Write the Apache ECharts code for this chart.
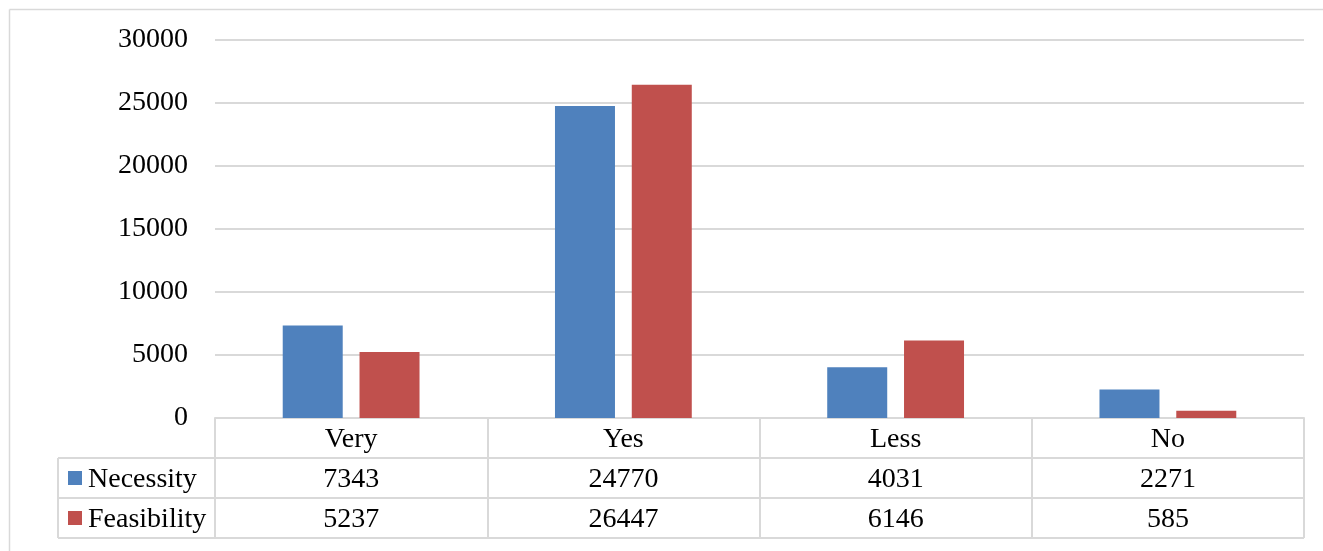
<!DOCTYPE html>
<html>
<head>
<meta charset="utf-8">
<script src="https://cdn.jsdelivr.net/npm/echarts@6/dist/echarts.min.js"></script>
<style>
  html, body { margin: 0; padding: 0; background: #fff; }
  #main { width: 1323px; height: 551px; }
</style>
</head>
<body>
<div id="main"></div>
<script>
// 数据
var categories = ["Very", "Yes", "Less", "No"];
var seriesNames = ["Necessity", "Feasibility"];
var necessity = [7343, 24770, 4031, 2271];
var feasibility = [5237, 26447, 6146, 585];
var yTicks = [0, 5000, 10000, 15000, 20000, 25000, 30000];

var colors = ["#4F81BD", "#C0504D"];
var lineColor = "#d9d9d9";
var font = "'Liberation Serif', 'Times New Roman', serif";
var fontSize = 28;

// 布局
var gridLeft = 215, gridRight = 19, gridTop = 40, gridBottom = 133;
var rowH = 40;
var tableLeft = 58;
var chartH = 551, chartW = 1323;
var axisY = chartH - gridBottom; // 0 刻度的位置

var mycharts = echarts.init(document.getElementById("main"));

var labelStyle = {
  color: "#000",
  fontFamily: font,
  fontSize: fontSize
};

// 表格左列（图例 + 行名）和外框
var graphics = [
  { type: "line", shape: { x1: 9.5, y1: 9.5, x2: chartW, y2: 9.5 }, style: { stroke: lineColor, lineWidth: 1.5 } },
  { type: "line", shape: { x1: 9.5, y1: 9.5, x2: 9.5, y2: chartH }, style: { stroke: lineColor, lineWidth: 1.5 } },
  { type: "line", shape: { x1: tableLeft, y1: axisY + rowH, x2: gridLeft, y2: axisY + rowH }, style: { stroke: lineColor, lineWidth: 2 } },
  { type: "line", shape: { x1: tableLeft, y1: axisY + rowH * 2, x2: gridLeft, y2: axisY + rowH * 2 }, style: { stroke: lineColor, lineWidth: 2 } },
  { type: "line", shape: { x1: tableLeft, y1: axisY + rowH * 3, x2: chartW - gridRight, y2: axisY + rowH * 3 }, style: { stroke: lineColor, lineWidth: 2 } },
  { type: "line", shape: { x1: tableLeft, y1: axisY + rowH, x2: tableLeft, y2: axisY + rowH * 3 }, style: { stroke: lineColor, lineWidth: 2 } }
];
seriesNames.forEach(function (name, i) {
  var cy = axisY + rowH * (i + 1) + rowH / 2;
  graphics.push({
    type: "rect",
    shape: { x: 68, y: cy - 7, width: 14, height: 14 },
    style: { fill: colors[i] }
  });
  graphics.push({
    type: "text",
    x: 88, y: cy + 2,
    style: { text: name, fill: "#000", font: fontSize + "px " + font, textVerticalAlign: "middle" }
  });
});

var option = {
  animation: false,
  color: colors,
  grid: { left: gridLeft, right: gridRight, top: gridTop, bottom: gridBottom },
  yAxis: {
    type: "value",
    min: yTicks[0],
    max: yTicks[yTicks.length - 1],
    interval: yTicks[1] - yTicks[0],
    axisLine: { show: false },
    axisTick: { show: false },
    axisLabel: Object.assign({
      margin: 27,
      padding: [4, 0, 0, 0],
      formatter: function (v) { return String(v); }
    }, labelStyle),
    splitLine: { lineStyle: { color: lineColor, width: 2 } }
  },
  xAxis: [
    {
      type: "category",
      data: categories,
      position: "bottom",
      axisLine: { lineStyle: { color: lineColor, width: 2 } },
      axisTick: { show: true, length: rowH * 3, lineStyle: { color: lineColor, width: 2 } },
      axisLabel: Object.assign({ margin: 8 }, labelStyle)
    },
    {
      type: "category",
      data: categories,
      position: "bottom",
      offset: rowH,
      axisLine: { lineStyle: { color: lineColor, width: 2 } },
      axisTick: { show: false },
      axisLabel: Object.assign({
        margin: 8,
        formatter: function (v, i) { return String(necessity[i]); }
      }, labelStyle)
    },
    {
      type: "category",
      data: categories,
      position: "bottom",
      offset: rowH * 2,
      axisLine: { lineStyle: { color: lineColor, width: 2 } },
      axisTick: { show: false },
      axisLabel: Object.assign({
        margin: 8,
        formatter: function (v, i) { return String(feasibility[i]); }
      }, labelStyle)
    }
  ],
  series: [
    {
      name: seriesNames[0],
      type: "bar",
      xAxisIndex: 0,
      barWidth: 60,
      barGap: "28%",
      data: necessity
    },
    {
      name: seriesNames[1],
      type: "bar",
      xAxisIndex: 0,
      barWidth: 60,
      barGap: "28%",
      data: feasibility
    }
  ],
  graphic: graphics
};

mycharts.setOption(option);
</script>
</body>
</html>
